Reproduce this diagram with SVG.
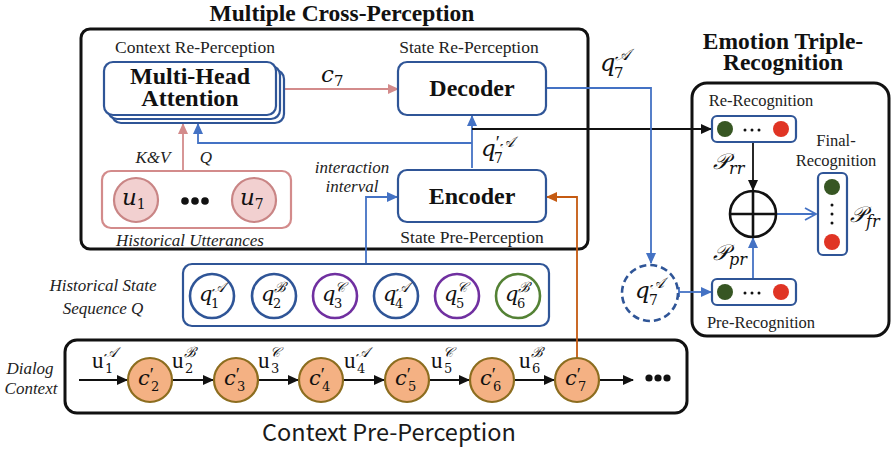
<svg xmlns="http://www.w3.org/2000/svg" width="891" height="449" viewBox="0 0 891 449">
<defs>
<style>
.title{font-family:"Liberation Serif",serif;font-weight:bold;font-size:23.5px;fill:#111;text-anchor:middle}
.lbl{font-family:"Liberation Serif",serif;font-size:17.5px;fill:#222;text-anchor:middle}
.it{font-family:"Liberation Serif",serif;font-style:italic;font-size:17px;fill:#222;text-anchor:middle}
.big{font-family:"Liberation Serif",serif;font-weight:bold;font-size:24px;fill:#111;text-anchor:middle}
.mi{font-family:"DejaVu Serif","Liberation Serif",serif;font-style:italic;font-size:21px;fill:#111}
.mu{font-family:"Liberation Serif",serif;font-style:normal;font-size:23px;fill:#111}
.sb{font-family:"DejaVu Serif","Liberation Serif",serif;font-style:normal;font-size:13px;fill:#111}
.sbi{font-family:"DejaVu Serif","Liberation Serif",serif;font-style:italic;font-size:14px;fill:#111}
.pr{font-family:"Liberation Serif",serif;font-style:normal;font-size:19px;fill:#111}
.box{fill:#fff;stroke:#2f5597;stroke-width:2.2}
.frame{fill:none;stroke:#111;stroke-width:3}
.blue{fill:none;stroke:#4472c4;stroke-width:1.8}
.blk{fill:none;stroke:#111;stroke-width:1.8}
.pink{fill:none;stroke:#d38b8b;stroke-width:1.8}
.orng{fill:none;stroke:#c55a11;stroke-width:1.8}
.cp{fill:#f4b183;stroke:#8c6d1f;stroke-width:2.2}
.gd{fill:#375623}
.rd{fill:#e03424}
</style>
<marker id="ab" markerUnits="userSpaceOnUse" markerWidth="12" markerHeight="10" refX="10" refY="5" orient="auto"><path d="M0,0 L11,5 L0,10 z" fill="#4472c4"/></marker>
<marker id="ak" markerUnits="userSpaceOnUse" markerWidth="12" markerHeight="10" refX="10" refY="5" orient="auto"><path d="M0,0 L11,5 L0,10 z" fill="#111"/></marker>
<marker id="ap" markerUnits="userSpaceOnUse" markerWidth="12" markerHeight="10" refX="10" refY="5" orient="auto"><path d="M0,0 L11,5 L0,10 z" fill="#d38b8b"/></marker>
<marker id="ao" markerUnits="userSpaceOnUse" markerWidth="12" markerHeight="10" refX="10" refY="5" orient="auto"><path d="M0,0 L11,5 L0,10 z" fill="#c55a11"/></marker>
<marker id="av" markerUnits="userSpaceOnUse" markerWidth="14" markerHeight="14" refX="12" refY="7" orient="auto"><path d="M1,1 L12,7 L1,13" fill="none" stroke="#4472c4" stroke-width="1.8"/></marker>
</defs>

<!-- titles -->
<text class="title" x="342" y="21">Multiple Cross-Perception</text>
<text class="title" x="783" y="49">Emotion Triple-</text>
<text class="title" x="783" y="70">Recognition</text>
<text x="389" y="441" style="font-family:'Noto Sans CJK SC','Noto Sans',sans-serif;font-weight:400;font-size:23.5px;fill:#1a1a1a;text-anchor:middle">Context Pre-Perception</text>

<!-- frames -->
<g id="multiple-cross-perception"><rect class="frame" x="81" y="29" width="507" height="220" rx="9"/></g>
<g id="emotion-triple-recognition"><rect class="frame" x="692" y="83" width="197" height="253" rx="15"/></g>
<g id="dialog-context-frame"><rect class="frame" x="65" y="340" width="622" height="73" rx="12"/></g>

<!-- connectors -->
<g id="connectors">
<path class="pink" d="M276,89 H398" marker-end="url(#ap)"/>
<path class="pink" d="M183,171 V124" marker-end="url(#ap)"/>
<path class="blue" d="M472,168 V116" marker-end="url(#ab)"/>
<path class="blue" d="M472,143 H198 V124" marker-end="url(#ab)"/>
<path class="blk" d="M472,129 H711" marker-end="url(#ak)"/>
<path class="blue" d="M546,88 H651 V263" marker-end="url(#ab)"/>
<path class="blue" d="M366,264 V197 H397" marker-end="url(#ab)"/>
<path class="orng" d="M577,358 V197 H547" marker-end="url(#ao)"/>
<path class="blue" d="M679,292 H711" marker-end="url(#ab)"/>
<path class="blue" d="M679,287 V297"/>
<path class="blk" d="M753,142 V190" marker-end="url(#ak)"/>
<path class="blue" d="M753,279 V238" marker-end="url(#ab)"/>
<path class="blue" d="M777,214 H816" marker-end="url(#av)"/>
<path class="blk" d="M79,380 H127" marker-end="url(#ak)"/>
<path class="blk" d="M172,380 H213" marker-end="url(#ak)"/>
<path class="blk" d="M258,380 H298" marker-end="url(#ak)"/>
<path class="blk" d="M343,380 H384" marker-end="url(#ak)"/>
<path class="blk" d="M429,380 H469" marker-end="url(#ak)"/>
<path class="blk" d="M514,380 H554" marker-end="url(#ak)"/>
<path class="blk" d="M599,380 H633" marker-end="url(#ak)"/>
</g>

<!-- Multi-Head Attention -->
<g id="multi-head-attention">
<text class="lbl" x="195" y="53">Context Re-Perception</text>
<rect class="box" x="112" y="70" width="172" height="53" rx="9"/>
<rect class="box" x="108" y="66" width="172" height="53" rx="9"/>
<rect class="box" x="104" y="62" width="172" height="53" rx="9"/>
<text class="big" x="190" y="84">Multi-Head</text>
<text class="big" x="190" y="106">Attention</text>
</g>

<g id="decoder">
<text class="lbl" x="469" y="53">State Re-Perception</text>
<rect class="box" x="398" y="62" width="148" height="53" rx="9"/>
<text class="big" x="472" y="96">Decoder</text>
</g>

<g id="encoder">
<rect class="box" x="398" y="170" width="148" height="52" rx="9"/>
<text class="big" x="472" y="204">Encoder</text>
<text class="lbl" x="472" y="243">State Pre-Perception</text>
</g>

<!-- labels -->
<g id="labels">
<text class="mi" x="321" y="82" style="font-size:23px">c<tspan class="sb" dy="4" style="font-size:15px">7</tspan></text>
<text class="mi" x="600" y="71" style="font-size:24px">q<tspan class="sbi" dy="-11" style="font-size:16px">𝒜</tspan><tspan class="sb" x="614" dy="18" style="font-size:15px">7</tspan></text>
<text class="mi" x="481" y="156" style="font-size:23px">q<tspan class="pr" dy="-7">′</tspan><tspan class="sbi" dy="-2" style="font-size:15px">𝒜</tspan><tspan class="sb" x="494" dy="16" style="font-size:14px">7</tspan></text>
<text class="it" x="153" y="163">K&amp;V</text>
<text class="it" x="206" y="163">Q</text>
<text class="it" x="352" y="173">interaction</text>
<text class="it" x="352" y="192">interval</text>
<text class="it" x="103" y="291">Historical State</text>
<text class="it" x="103" y="314">Sequence Q</text>
<text class="it" x="30" y="374">Dialog</text>
<text class="it" x="31" y="394">Context</text>
</g>

<!-- Historical Utterances -->
<g id="historical-utterances">
<rect x="102" y="171" width="189" height="57" rx="9" fill="#fff" stroke="#d38b8b" stroke-width="2.2"/>
<circle cx="136" cy="200" r="22" fill="#f2d0d0" stroke="#c98585" stroke-width="2.2"/>
<circle cx="254" cy="200" r="22" fill="#f2d0d0" stroke="#c98585" stroke-width="2.2"/>
<text class="mi" x="122" y="205" style="font-size:23px">u<tspan class="sb" dy="4" style="font-size:14px">1</tspan></text>
<text class="mi" x="240" y="205" style="font-size:23px">u<tspan class="sb" dy="4" style="font-size:14px">7</tspan></text>
<circle cx="185" cy="201" r="3.8" fill="#111"/><circle cx="195" cy="201" r="3.8" fill="#111"/><circle cx="205" cy="201" r="3.8" fill="#111"/>
<text class="it" x="190" y="246">Historical Utterances</text>
</g>

<!-- Historical State Sequence -->
<g id="historical-state-sequence">
<rect class="box" x="183" y="264" width="366" height="62" rx="9"/>
<g fill="#fff" stroke-width="2.6">
<circle cx="212" cy="296" r="22" stroke="#2f5597"/>
<circle cx="274" cy="296" r="22" stroke="#2f5597"/>
<circle cx="335" cy="296" r="22" stroke="#7030a0"/>
<circle cx="396" cy="296" r="22" stroke="#2f5597"/>
<circle cx="457" cy="296" r="22" stroke="#7030a0"/>
<circle cx="518" cy="296" r="22" stroke="#548235"/>
</g>
<text class="mi" x="199" y="301">q<tspan class="sbi" dy="-9">𝒜</tspan><tspan class="sb" x="211" dy="16">1</tspan></text>
<text class="mi" x="261" y="301">q<tspan class="sbi" dy="-9">ℬ</tspan><tspan class="sb" x="273" dy="16">2</tspan></text>
<text class="mi" x="322" y="301">q<tspan class="sbi" dy="-9">𝒞</tspan><tspan class="sb" x="334" dy="16">3</tspan></text>
<text class="mi" x="383" y="301">q<tspan class="sbi" dy="-9">𝒜</tspan><tspan class="sb" x="395" dy="16">4</tspan></text>
<text class="mi" x="444" y="301">q<tspan class="sbi" dy="-9">𝒞</tspan><tspan class="sb" x="456" dy="16">5</tspan></text>
<text class="mi" x="505" y="301">q<tspan class="sbi" dy="-9">ℬ</tspan><tspan class="sb" x="517" dy="16">6</tspan></text>
</g>

<!-- Dialog context -->
<g id="dialog-context">
<circle class="cp" cx="150" cy="380" r="22"/>
<circle class="cp" cx="236" cy="380" r="22"/>
<circle class="cp" cx="321" cy="380" r="22"/>
<circle class="cp" cx="407" cy="380" r="22"/>
<circle class="cp" cx="492" cy="380" r="22"/>
<circle class="cp" cx="577" cy="380" r="22"/>
<text class="mi" x="138" y="385">c<tspan class="pr" dy="-4">′</tspan><tspan class="sb" x="151" dy="10">2</tspan></text>
<text class="mi" x="224" y="385">c<tspan class="pr" dy="-4">′</tspan><tspan class="sb" x="237" dy="10">3</tspan></text>
<text class="mi" x="309" y="385">c<tspan class="pr" dy="-4">′</tspan><tspan class="sb" x="322" dy="10">4</tspan></text>
<text class="mi" x="395" y="385">c<tspan class="pr" dy="-4">′</tspan><tspan class="sb" x="408" dy="10">5</tspan></text>
<text class="mi" x="480" y="385">c<tspan class="pr" dy="-4">′</tspan><tspan class="sb" x="493" dy="10">6</tspan></text>
<text class="mi" x="565" y="385">c<tspan class="pr" dy="-4">′</tspan><tspan class="sb" x="578" dy="10">7</tspan></text>
<text class="mu" x="92" y="368">u<tspan class="sbi" dy="-11">𝒜</tspan><tspan class="sb" x="105" dy="16">1</tspan></text>
<text class="mu" x="172" y="368">u<tspan class="sbi" dy="-11">ℬ</tspan><tspan class="sb" x="185" dy="16">2</tspan></text>
<text class="mu" x="258" y="368">u<tspan class="sbi" dy="-11">𝒞</tspan><tspan class="sb" x="271" dy="16">3</tspan></text>
<text class="mu" x="344" y="368">u<tspan class="sbi" dy="-11">𝒜</tspan><tspan class="sb" x="357" dy="16">4</tspan></text>
<text class="mu" x="431" y="368">u<tspan class="sbi" dy="-11">𝒞</tspan><tspan class="sb" x="444" dy="16">5</tspan></text>
<text class="mu" x="519" y="368">u<tspan class="sbi" dy="-11">ℬ</tspan><tspan class="sb" x="532" dy="16">6</tspan></text>
<circle cx="649" cy="378" r="3.6" fill="#111"/><circle cx="658" cy="378" r="3.6" fill="#111"/><circle cx="667" cy="378" r="3.6" fill="#111"/>
</g>

<!-- q7 dashed -->
<g id="q7-state">
<circle cx="650" cy="293" r="28" fill="#fff" stroke="#2f5597" stroke-width="2.6" stroke-dasharray="7 4"/>
<text class="mi" x="635" y="298" style="font-size:23px">q<tspan class="sbi" dy="-10" style="font-size:15px">𝒜</tspan><tspan class="sb" x="649" dy="17" style="font-size:14px">7</tspan></text>
</g>

<!-- Re-Recognition -->
<g id="re-recognition">
<text class="lbl" x="761" y="106" style="font-size:16.5px">Re-Recognition</text>
<rect class="box" x="712" y="116" width="84" height="26" rx="5"/>
<circle class="gd" cx="725" cy="129" r="8"/>
<circle class="rd" cx="781" cy="129" r="8"/>
<circle cx="745" cy="130" r="1.5" fill="#111"/><circle cx="752" cy="130" r="1.5" fill="#111"/><circle cx="759" cy="130" r="1.5" fill="#111"/>
<text class="mi" x="713" y="169" style="font-size:22px">𝒫<tspan class="sbi" dy="5" style="font-size:16px">rr</tspan></text>
</g>

<g id="fusion">
<circle cx="753" cy="214" r="23" fill="#fff" stroke="#111" stroke-width="2.6"/>
<path d="M730,214 H776 M753,191 V237" stroke="#111" stroke-width="2.6"/>
</g>

<g id="pre-recognition">
<rect class="box" x="712" y="279" width="84" height="26" rx="5"/>
<circle class="gd" cx="725" cy="292" r="8"/>
<circle class="rd" cx="781" cy="292" r="8"/>
<circle cx="745" cy="293" r="1.5" fill="#111"/><circle cx="752" cy="293" r="1.5" fill="#111"/><circle cx="759" cy="293" r="1.5" fill="#111"/>
<text class="lbl" x="761" y="328" style="font-size:16.5px">Pre-Recognition</text>
<text class="mi" x="713" y="260" style="font-size:22px">𝒫<tspan class="sbi" dy="5" style="font-size:16px">pr</tspan></text>
</g>

<g id="final-recognition">
<text class="lbl" x="836" y="146" style="font-size:16.5px">Final-</text>
<text class="lbl" x="836" y="166" style="font-size:16.5px">Recognition</text>
<rect class="box" x="818" y="173" width="29" height="82" rx="5"/>
<circle class="gd" cx="832" cy="187" r="8"/>
<circle class="rd" cx="832" cy="242" r="8"/>
<circle cx="832" cy="205" r="1.5" fill="#111"/><circle cx="832" cy="214" r="1.5" fill="#111"/><circle cx="832" cy="223" r="1.5" fill="#111"/>
<text class="mi" x="850" y="222" style="font-size:22px">𝒫<tspan class="sbi" dy="5" style="font-size:16px">fr</tspan></text>
</g>
</svg>
